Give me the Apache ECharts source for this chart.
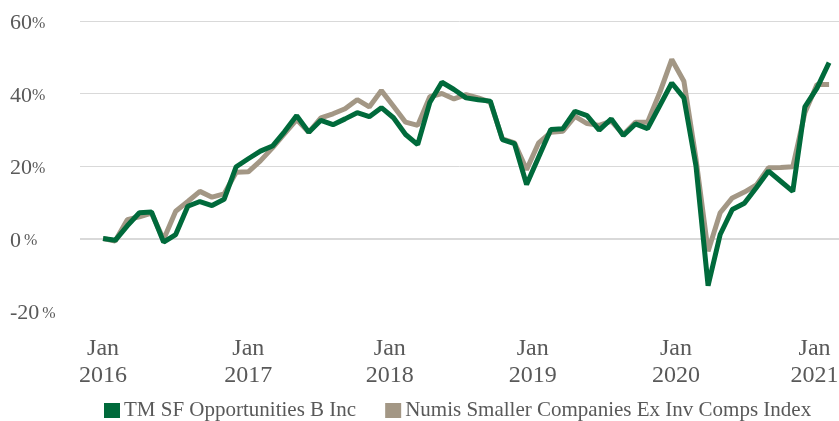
<!DOCTYPE html>
<html>
<head>
<meta charset="utf-8">
<script src="https://cdn.jsdelivr.net/npm/echarts@6/dist/echarts.min.js"></script>
<style>
html,body{margin:0;padding:0;background:#fff;}
#chart{width:839px;height:421px;}
</style>
</head>
<body>
<div id="chart"></div>
<script>
// Month index 0 = Jan 2016 ... 60 = Jan 2021
const months = Array.from({length: 61}, (_, i) => i);

const fundName = 'TM SF Opportunities B Inc';
const indexName = 'Numis Smaller Companies Ex Inv Comps Index';

const fundValues = [
  0, -0.5, 3.5, 7.1, 7.3, -1.0, 1.1, 8.9, 10.2, 9.1, 10.8, 19.8,
  22.0, 24.1, 25.5, 29.5, 33.9, 29.3, 32.6, 31.4, 33.0, 34.7, 33.6, 36.1,
  33.3, 28.7, 25.9, 37.5, 43.1, 41.1, 38.8, 38.3, 37.9, 27.3, 26.2, 14.9,
  22.5, 30.1, 30.3, 35.1, 33.9, 29.9, 33.0, 28.4, 31.6, 30.3, 36.6, 42.9,
  38.8, 20.0, -13.0, 1.1, 8.0, 9.7, 14.1, 18.6, 15.8, 13.0, 36.3, 41.5,
  48.5
];

const indexValues = [
  0, -0.7, 5.2, 6.0, 7.0, -0.3, 7.5, 10.2, 13.0, 11.4, 12.3, 18.3,
  18.4, 21.4, 25.0, 28.9, 32.8, 29.3, 33.3, 34.4, 35.8, 38.3, 36.3, 40.8,
  36.5, 32.1, 31.2, 39.1, 40.0, 38.5, 39.7, 38.8, 37.6, 27.5, 26.4, 19.0,
  26.4, 29.3, 29.6, 33.7, 31.7, 31.2, 32.4, 28.7, 32.1, 32.1, 40.2, 49.4,
  43.4, 22.0, -3.5, 7.1, 11.2, 12.8, 14.8, 19.5, 19.6, 19.8, 34.7, 42.5,
  42.5
];

const xTickLabels = ['Jan\n2016', 'Jan\n2017', 'Jan\n2018', 'Jan\n2019', 'Jan\n2020', 'Jan\n2021'];
const xTickPositions = [0, 12, 23.7, 35.5, 47.35, 58.8];
const yTicks = [-20, 0, 20, 40, 60];

const green = '#006a3b';
const taupe = '#a39785';
const textColor = '#595959';
const font = '"Liberation Serif", "Times New Roman", serif';

const chart = echarts.init(document.getElementById('chart'), null, {renderer: 'canvas'});

chart.setOption({
  animation: false,
  backgroundColor: '#ffffff',
  textStyle: {fontFamily: font},
  grid: {left: 80, right: 0, top: 21, bottom: 110, containLabel: false, outerBoundsMode: 'none'},
  xAxis: {
    type: 'value',
    min: -1.909,
    max: 60.82,
    axisLine: {show: false},
    axisTick: {show: false},
    splitLine: {show: false},
    axisLabel: {
      customValues: xTickPositions,
      margin: 24,
      color: textColor,
      fontFamily: font,
      fontSize: 24,
      lineHeight: 27,
      align: 'center',
      hideOverlap: false,
      showMinLabel: true,
      showMaxLabel: true,
      formatter: function (v) {
        let best = 0, bd = Infinity;
        xTickPositions.forEach((p, i) => { const d = Math.abs(p - v); if (d < bd) { bd = d; best = i; } });
        return xTickLabels[best];
      }
    }
  },
  yAxis: {
    type: 'value',
    min: yTicks[0],
    max: yTicks[yTicks.length - 1],
    interval: 20,
    axisLine: {show: false},
    axisTick: {show: false},
    splitLine: {show: true, showMinLine: false, lineStyle: {color: '#d9d9d9', width: 1}},
    axisLabel: {
      align: 'left',
      margin: 70,
      color: textColor,
      padding: [5, 0, 0, 0],
      formatter: function (v) {
        const sep = (v === 0 || v < 0) ? ' ' : '';
        return '{n|' + v + '}' + sep + '{p|%}';
      },
      rich: {
        n: {fontFamily: font, fontSize: 22, color: textColor},
        p: {fontFamily: font, fontSize: 16, color: textColor}
      }
    }
  },
  legend: {
    left: 104,
    top: 400,
    itemWidth: 16,
    itemHeight: 15,
    itemGap: 29,
    icon: 'rect',
    padding: 0,
    textStyle: {fontFamily: font, fontSize: 21, color: textColor, padding: [0, 0, 0, -1]},
    data: [fundName, indexName]
  },
  series: [
    {
      name: fundName,
      type: 'line',
      z: 4,
      symbol: 'none',
      data: months.map((m, i) => [m, fundValues[i]]),
      lineStyle: {color: green, width: 5},
      itemStyle: {color: green}
    },
    {
      name: indexName,
      type: 'line',
      z: 3,
      symbol: 'none',
      data: months.map((m, i) => [m, indexValues[i]]),
      lineStyle: {color: taupe, width: 5},
      itemStyle: {color: taupe},
      markLine: {
        silent: true,
        symbol: 'none',
        label: {show: false},
        lineStyle: {color: '#d9d9d9', width: 2, type: 'solid'},
        data: [{yAxis: 0}],
        z: 1
      }
    }
  ]
});
</script>
</body>
</html>
